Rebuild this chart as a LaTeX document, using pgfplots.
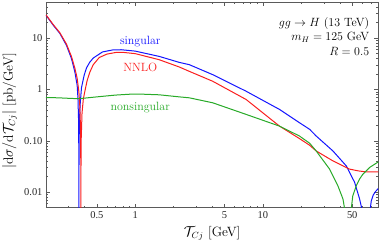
\documentclass[border=0pt]{standalone}
\usepackage{fontspec}
\usepackage{pgfplots}
\pgfplotsset{compat=1.18}
\newfontfamily\tickfont{Liberation Serif}
\definecolor{cblue}{RGB}{20,20,255}
\definecolor{cred}{RGB}{250,30,30}
\definecolor{cgreen}{RGB}{40,170,40}
\definecolor{cframe}{RGB}{90,90,90}
\begin{document}
\begin{tikzpicture}
\begin{axis}[name=ax, xmode=log, ymode=log, scale only axis,
  width=332.3bp, height=205.4bp,
  xmin=0.2, xmax=80, ymin=0.005, ymax=50,
  xtick={0.5,1,5,10,50}, xticklabels={0.5,1,5,10,50},
  minor xtick={0.2,0.3,0.4,0.6,0.7,0.8,0.9,2,3,4,6,7,8,9,20,30,40,60,70,80},
  ytick={0.01,0.1,1,10}, yticklabels={0.01,0.10,1,10},
  minor ytick={0.005,0.006,0.007,0.008,0.009,0.02,0.03,0.04,0.05,0.06,0.07,0.08,0.09,0.2,0.3,0.4,0.5,0.6,0.7,0.8,0.9,2,3,4,5,6,7,8,9,20,30,40,50},
  tick pos=both, tick align=inside, major tick length=4bp, minor tick length=2.2bp,
  axis line style={cframe, line width=0.8bp},
  tick style={cframe, line width=0.6bp},
  tick label style={font=\tickfont\fontsize{10.5}{12}\selectfont, text=black!85},
  label style={font=\fontsize{13.5}{16}\selectfont},
  xlabel={$\mathcal{T}_{Cj}$ [GeV]},
  ylabel={$|\mathrm{d}\sigma/\mathrm{d}\mathcal{T}_{Cj}|$ [pb/GeV]},
  xlabel style={at={(axis description cs:0.5,-0.123)}, anchor=center},
  ylabel style={at={(axis description cs:-0.110,0.471)}, anchor=center, inner sep=0pt},
  every axis plot/.append style={line width=1bp, mark=none},
]
% singular
\addplot[cblue] coordinates {
(0.2,28.0) (0.2275,18.0) (0.2566,12.4) (0.289,7.3) (0.3166,4.0) (0.3366,2.2)
(0.3509,1.2) (0.356,0.66) (0.3595,0.27) (0.361,0.09) (0.3616,0.025) (0.3618,0.00001)
(0.3622,0.02) (0.3635,0.1) (0.366,0.26) (0.370,0.5) (0.3791,1.08) (0.398,1.9)
(0.415,2.63) (0.44,3.4) (0.469,4.11) (0.554,5.4) (0.664,5.9) (0.777,5.96)
(1.0,5.6) (1.54,4.42) (2.21,3.38) (2.65,3.05) (4.04,1.95) (7.38,0.927)
(13.47,0.41) (19.3,0.226) (23.2,0.168) (26.1,0.1245) (35.3,0.0637) (44.9,0.0326)
(52.2,0.0156) (57.1,0.0074) (59.3,0.0049) (59.8,0.00001) (68.9,0.00001)
(69.3,0.0049) (70.5,0.0068) (73,0.0088) (76,0.0103) (80,0.0118)
};
% NNLO
\addplot[cred] coordinates {
(0.2,28.5) (0.2275,18.5) (0.2566,12.8) (0.289,7.7) (0.3166,4.4) (0.3366,2.6)
(0.3509,1.65) (0.362,0.9) (0.368,0.47) (0.372,0.2) (0.3740,0.07) (0.3748,0.02)
(0.3751,0.00001) (0.3755,0.02) (0.377,0.1) (0.383,0.35) (0.392,0.65) (0.4032,0.93)
(0.42,1.5) (0.4414,2.2) (0.469,3.05) (0.522,4.2) (0.6,4.9) (0.706,5.28) (0.8,5.3)
(1.0,5.0) (1.54,3.81) (2.21,2.75) (2.65,2.26) (4.04,1.45) (7.38,0.64)
(13.47,0.194) (19.3,0.111) (23.2,0.0822) (26.1,0.0637) (35.3,0.0408)
(47.7,0.0282) (56,0.026) (64.5,0.0249) (80,0.0249)
};
% nonsingular
\addplot[cgreen] coordinates {
(0.2,0.70) (0.25,0.69) (0.3,0.675) (0.35,0.665) (0.4,0.68) (0.5,0.72) (0.7,0.78)
(0.9,0.81) (1.1,0.815) (1.54,0.79) (2.21,0.72) (2.65,0.69) (4.04,0.552)
(7.38,0.328) (13.47,0.194) (19.3,0.1245) (23.2,0.09) (26.1,0.0637) (33.25,0.0282)
(38.6,0.01337) (42.3,0.0074) (43.5,0.0049) (44.0,0.00001) (48.8,0.00001)
(49.2,0.0049) (50.5,0.0085) (53.8,0.0134) (57,0.018) (60.6,0.0225) (68.4,0.0304)
(80,0.039)
};
\node[cblue, font=\fontsize{12}{14}\selectfont] at (axis cs:1.094,8.51) {singular};
\node[cred, font=\fontsize{12}{14}\selectfont] at (axis cs:1.094,2.67) {NNLO};
\node[cgreen, font=\fontsize{12}{14}\selectfont] at (axis cs:1.094,0.448) {nonsingular};
\node[anchor=east, font=\fontsize{12}{14}\selectfont] at (rel axis cs:0.983,0.897) {$gg\to H$ (13 TeV)};
\node[anchor=east, font=\fontsize{12}{14}\selectfont] at (rel axis cs:0.983,0.828) {$m_H=125$ GeV};
\node[anchor=east, font=\fontsize{12}{14}\selectfont] at (rel axis cs:0.983,0.763) {$R=0.5$};
\end{axis}
\pgfresetboundingbox
\path[use as bounding box] ([shift={(-46bp,-40.3bp)}]ax.south west) rectangle ([shift={(3.7bp,2.3bp)}]ax.north east);
\end{tikzpicture}
\end{document}
